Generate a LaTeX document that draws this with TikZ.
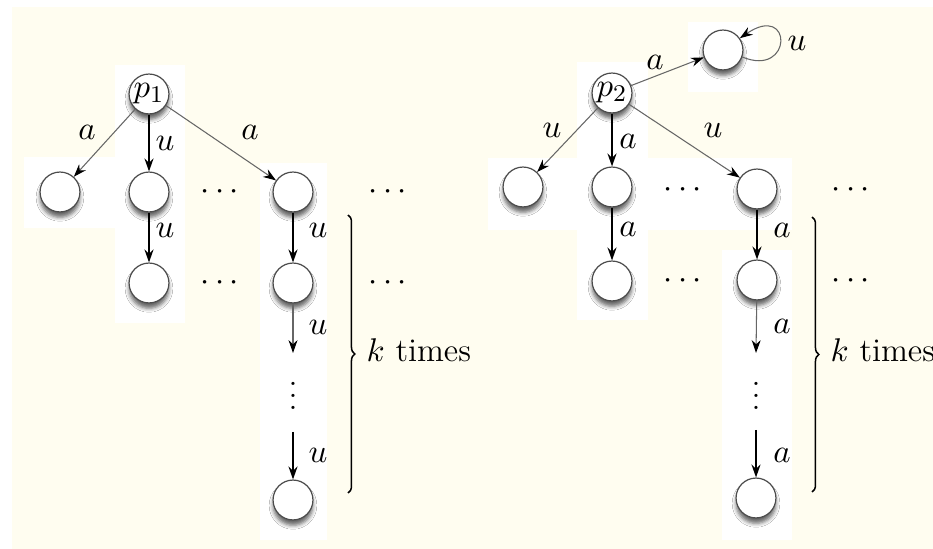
\documentclass[tikz,border=0pt]{standalone}
\usetikzlibrary{arrows.meta,decorations.pathreplacing,shadows.blur}
\definecolor{cream}{RGB}{255,253,240}
\begin{document}
\begin{tikzpicture}[x=0.33333pt,y=-0.33333pt,
  every node/.style={font=\fontsize{11}{13}\selectfont},
  st/.style={circle,draw=black!70,line width=0.4pt,fill=white,minimum size=13.3pt,inner sep=0pt,
    blur shadow={shadow xshift=0pt,shadow yshift=-1.8pt,shadow blur radius=1.3pt,shadow opacity=60}},
  e/.style={-{Stealth[length=4.3pt,width=3pt]},line width=0.55pt,black},
  eg/.style={-{Stealth[length=4.3pt,width=3pt,black]},line width=0.35pt,draw=black!60},
  lab/.style={inner sep=0pt},
  dt/.style={inner sep=0pt},
  brc/.style={decorate,decoration={brace,amplitude=2.3pt},line width=0.5pt}
]
\useasboundingbox (0,0) rectangle (933,549);
\fill[white] (0,0) rectangle (933,549);
\fill[cream] (12,7) rectangle (933,549);
% white patches (left)
\fill[white] (115,65) rectangle (185,323);
\fill[white] (24,157) rectangle (115,228);
\fill[white] (260,163) rectangle (327,540);
% white patches (right)
\fill[white] (577,62) rectangle (648,320);
\fill[white] (488,158) rectangle (792,230);
\fill[white] (722,250) rectangle (792,540);
\fill[white] (688,22) rectangle (758,92);

% ---------- left tree ----------
\node[st] (p1) at (149,94) {$p_1$};
\node[st] (a1) at (60,192) {};
\node[st] (a2) at (149,192) {};
\node[st] (a3) at (293,192) {};
\node[st] (b2) at (149,283) {};
\node[st] (b3) at (293,283) {};
\node[st] (z1) at (293,500) {};
\coordinate (m1) at (293,353);
\coordinate (n1) at (293,432);
\node[dt] (vd1) at (293,387) {$\vdots$};
\node[dt] (h11) at (220,192) {$\cdots$};
\node[dt] (h12) at (388,192) {$\cdots$};
\node[dt] (h13) at (220,283) {$\cdots$};
\node[dt] (h14) at (388,283) {$\cdots$};
\draw[eg] (p1) -- (a1);
\draw[e] (p1) -- (a2);
\draw[eg] (p1) -- (a3);
\draw[e] (a2) -- (b2);
\draw[e] (a3) -- (b3);
\draw[eg] (b3) -- (m1);
\draw[e] (n1) -- (z1);
\node[lab] (l1) at (87,132) {$a$};
\node[lab] (l2) at (165,143) {$u$};
\node[lab] (l3) at (250,132) {$a$};
\node[lab] (l4) at (165,230) {$u$};
\node[lab] (l5) at (318,230) {$u$};
\node[lab] (l6) at (318,327) {$u$};
\node[lab] (l7) at (318,455) {$u$};
\coordinate (bt1) at (348,215);
\coordinate (bb1) at (348,493);
\draw[brc] (bt1) -- (bb1);
\node[anchor=west,inner sep=0pt] (k1) at (366,350) {$k$ times};

% ---------- right tree ----------
\node[st] (p2) at (612,93) {$p_2$};
\node[st] (lp) at (723,50) {};
\node[st] (c1) at (523,187) {};
\node[st] (c2) at (612,187) {};
\node[st] (c3) at (757,189) {};
\node[st] (d2) at (612,281) {};
\node[st] (d3) at (757,280) {};
\node[st] (z2) at (756,498) {};
\coordinate (m2) at (756,353);
\coordinate (n2) at (756,430);
\node[dt] (vd2) at (756,387) {$\vdots$};
\node[dt] (h21) at (683,190) {$\cdots$};
\node[dt] (h22) at (851,190) {$\cdots$};
\node[dt] (h23) at (683,281) {$\cdots$};
\node[dt] (h24) at (851,281) {$\cdots$};
\draw[eg] (p2) -- (lp);
\draw[eg] (lp.-20) .. controls (793,78) and (793,2) .. (lp.35);
\draw[eg] (p2) -- (c1);
\draw[e] (p2) -- (c2);
\draw[eg] (p2) -- (c3);
\draw[e] (c2) -- (d2);
\draw[e] (c3) -- (d3);
\draw[eg] (d3) -- (m2);
\draw[e] (n2) -- (z2);
\node[lab] (r0) at (655,62) {$a$};
\node[lab] (r9) at (797,43) {$u$};
\node[lab] (r1) at (552,130) {$u$};
\node[lab] (r2) at (628,141) {$a$};
\node[lab] (r3) at (713,130) {$u$};
\node[lab] (r4) at (628,229) {$a$};
\node[lab] (r5) at (782,230) {$a$};
\node[lab] (r6) at (782,326) {$a$};
\node[lab] (r7) at (782,455) {$a$};
\coordinate (bt2) at (812,217);
\coordinate (bb2) at (812,492);
\draw[brc] (bt2) -- (bb2);
\node[anchor=west,inner sep=0pt] (k2) at (830,350) {$k$ times};
\end{tikzpicture}
\end{document}
